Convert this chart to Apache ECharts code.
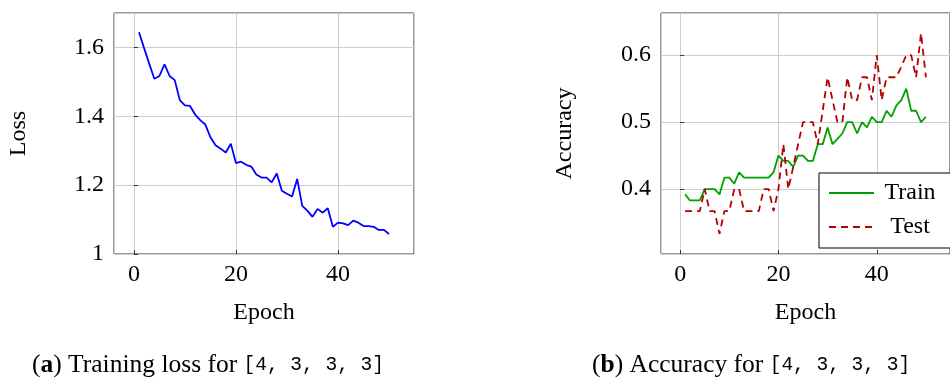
<!DOCTYPE html>
<html lang="en">
<head>
<meta charset="utf-8">
<title>Training loss and accuracy</title>
<script src="https://cdn.jsdelivr.net/npm/echarts@6/dist/echarts.min.js"></script>
<style>html,body{margin:0;padding:0;background:#fff;}</style>
</head>
<body>
<div id="main" style="width:950px;height:378px;"></div>
<script>
var epochs = [1, 2, 3, 4, 5, 6, 7, 8, 9, 10, 11, 12, 13, 14, 15, 16, 17, 18, 19, 20,
    21, 22, 23, 24, 25, 26, 27, 28, 29, 30, 31, 32, 33, 34, 35, 36, 37, 38, 39, 40,
    41, 42, 43, 44, 45, 46, 47, 48, 49, 50];

var lossValues = [1.644, 1.598, 1.553, 1.509, 1.517, 1.551, 1.517, 1.505, 1.447, 1.432,
    1.430, 1.405, 1.389, 1.376, 1.339, 1.316, 1.306, 1.295, 1.320, 1.264,
    1.268, 1.259, 1.254, 1.231, 1.222, 1.222, 1.208, 1.234, 1.184, 1.175,
    1.167, 1.218, 1.140, 1.126, 1.108, 1.131, 1.120, 1.133, 1.079, 1.091,
    1.089, 1.084, 1.097, 1.091, 1.081, 1.081, 1.079, 1.070, 1.070, 1.058];

var trainAcc = [0.392, 0.383, 0.383, 0.383, 0.400, 0.400, 0.400, 0.392, 0.417, 0.417,
    0.408, 0.425, 0.417, 0.417, 0.417, 0.417, 0.417, 0.417, 0.425, 0.450,
    0.442, 0.442, 0.433, 0.450, 0.450, 0.442, 0.442, 0.467, 0.467, 0.492,
    0.467, 0.475, 0.483, 0.500, 0.500, 0.483, 0.500, 0.492, 0.508, 0.500,
    0.500, 0.517, 0.508, 0.525, 0.533, 0.550, 0.517, 0.517, 0.500, 0.508];

var testAcc = [0.367, 0.367, 0.367, 0.367, 0.400, 0.367, 0.367, 0.333, 0.367, 0.367,
    0.400, 0.400, 0.367, 0.367, 0.367, 0.367, 0.400, 0.400, 0.367, 0.400,
    0.467, 0.400, 0.433, 0.467, 0.500, 0.500, 0.500, 0.467, 0.517, 0.567,
    0.533, 0.500, 0.500, 0.567, 0.533, 0.533, 0.567, 0.567, 0.533, 0.600,
    0.533, 0.567, 0.567, 0.567, 0.583, 0.600, 0.600, 0.567, 0.633, 0.567];

var lossRange = [1.0, 1.70];
var accRange = [0.303, 0.663];
var epochRange = [-3.9, 54.9];

var captionA = ['a', ') Training loss for ', '[4, 3, 3, 3]'];
var captionB = ['b', ') Accuracy for ', '[4, 3, 3, 3]'];

var serif = '"Liberation Serif", "DejaVu Serif", serif';
var mono = '"Liberation Mono", "DejaVu Sans Mono", monospace';
var frame = '#333333';
var gridGray = '#cdcdcd';

function pairs(xs, ys) {
    var res = [];
    for (var i = 0; i < xs.length; i++) {
        res.push([xs[i], ys[i]]);
    }
    return res;
}

function xAx(idx, range) {
    return {
        type: 'value', gridIndex: idx, min: range[0], max: range[1], splitNumber: 3,
        name: 'Epoch', nameLocation: 'middle', nameGap: 47,
        nameTextStyle: { fontFamily: serif, fontSize: 24, color: '#000' },
        axisLine: { show: false },
        axisTick: { show: true, inside: true, length: 4, lineStyle: { color: frame } },
        axisLabel: { showMinLabel: false, showMaxLabel: false, margin: 9,
            fontFamily: serif, fontSize: 24, color: '#000' },
        splitLine: { show: true, lineStyle: { color: gridGray, width: 1 } }
    };
}

function yAx(idx, range, name, split, gap, showMin) {
    return {
        type: 'value', gridIndex: idx, min: range[0], max: range[1], splitNumber: split,
        name: name, nameLocation: 'middle', nameGap: gap,
        nameTextStyle: { fontFamily: serif, fontSize: 24, color: '#000' },
        axisLine: { show: false },
        axisTick: { show: true, inside: true, length: 4, lineStyle: { color: frame } },
        axisLabel: { showMinLabel: showMin, showMaxLabel: false, margin: 10,
            fontFamily: serif, fontSize: 24, color: '#000' },
        splitLine: { show: true, lineStyle: { color: gridGray, width: 1 } }
    };
}

function caption(parts, left) {
    return {
        left: left, top: 352, padding: 0,
        text: '{t|(}{b|' + parts[0] + '}{t|' + parts[1] + '}{m|' + parts[2] + '}',
        textStyle: {
            fontWeight: 'normal',
            rich: {
                t: { fontFamily: serif, fontSize: 25.5, fontWeight: 'normal', color: '#000' },
                b: { fontFamily: serif, fontSize: 25.5, fontWeight: 'bold', color: '#000' },
                m: { fontFamily: mono, fontSize: 19.5, fontWeight: 'normal', color: '#000' }
            }
        }
    };
}

var myChart = echarts.init(document.getElementById('main'));

var option = {
    backgroundColor: '#fff',
    animation: false,
    title: [caption(captionA, 32), caption(captionB, 592)],
    grid: [
        { left: 114, top: 13, width: 300, height: 241, show: true, borderColor: frame, borderWidth: 1 },
        { left: 661, top: 13, width: 300, height: 241, show: true, borderColor: frame, borderWidth: 1 }
    ],
    xAxis: [xAx(0, epochRange), xAx(1, epochRange)],
    yAxis: [yAx(0, lossRange, 'Loss', 4, 83, true), yAx(1, accRange, 'Accuracy', 3, 84, false)],
    legend: {
        data: ['Train', 'Test'],
        orient: 'vertical',
        left: 819, top: 173,
        padding: [8, 40, 9, 9],
        itemGap: 10,
        itemWidth: 45, itemHeight: 14,
        borderColor: '#000', borderWidth: 1,
        backgroundColor: '#fff',
        itemStyle: { opacity: 0 },
        formatter: function (name) {
            return '{c|' + name + '}';
        },
        textStyle: {
            rich: { c: { width: 62, align: 'center', fontFamily: serif, fontSize: 24, color: '#000' } }
        }
    },
    series: [
        {
            name: 'Loss', type: 'line', xAxisIndex: 0, yAxisIndex: 0,
            data: pairs(epochs, lossValues), symbol: 'none',
            lineStyle: { color: '#0000ff', width: 1.8 }, itemStyle: { color: '#0000ff' }
        },
        {
            name: 'Train', type: 'line', xAxisIndex: 1, yAxisIndex: 1,
            data: pairs(epochs, trainAcc), symbol: 'none',
            lineStyle: { color: '#00a000', width: 1.8 }, itemStyle: { color: '#00a000' }
        },
        {
            name: 'Test', type: 'line', xAxisIndex: 1, yAxisIndex: 1,
            data: pairs(epochs, testAcc), symbol: 'none',
            lineStyle: { color: '#b40000', width: 1.8, type: [7, 5] }, itemStyle: { color: '#b40000' }
        }
    ]
};
myChart.setOption(option);
</script>
</body>
</html>
